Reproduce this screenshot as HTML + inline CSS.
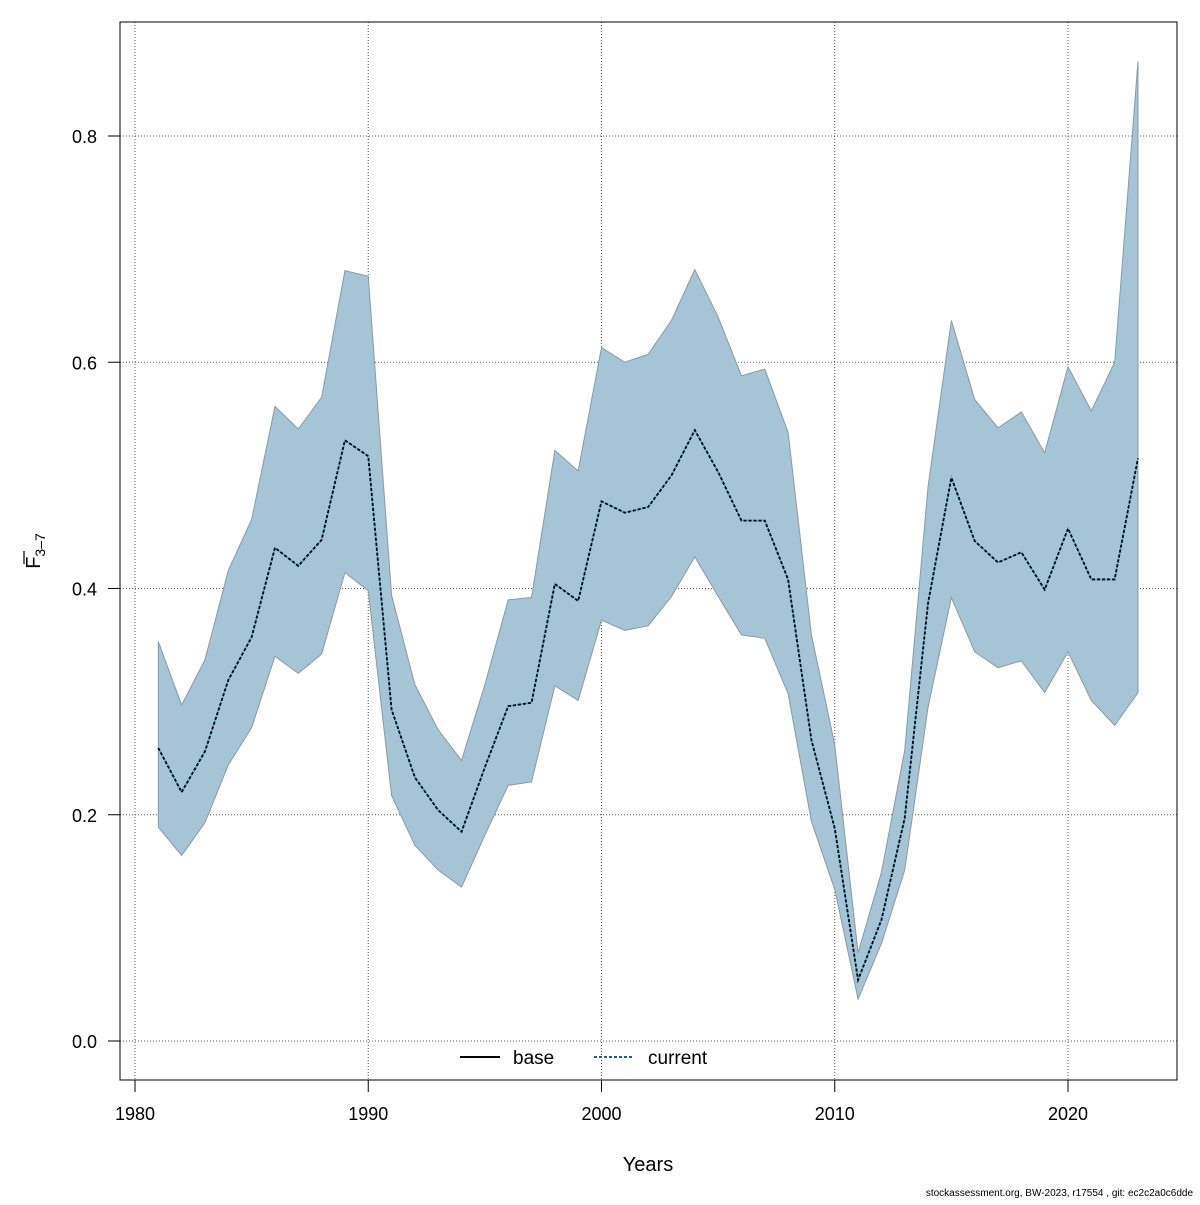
<!DOCTYPE html>
<html><head><meta charset="utf-8"><style>
body{margin:0;background:#fff;font-family:"Liberation Sans",sans-serif}
svg text{font-family:"Liberation Sans",sans-serif}
</style></head><body>
<svg id="chart" width="1200" height="1200" xmlns="http://www.w3.org/2000/svg">
<rect width="1200" height="1200" fill="#fff"/>
<g id="grid"></g>
<g id="marks"></g>
<rect x="120" y="22" width="1057" height="1058" fill="none" stroke="#000" stroke-width="1"/>
<g id="axes"></g>
<text x="648" y="1171" font-size="20" text-anchor="middle">Years</text>
<g transform="translate(40,551) rotate(-90)">
<text x="0" y="0" font-size="20" text-anchor="middle">F<tspan font-size="14" dy="5">3–7</tspan></text>
<line x1="-13" y1="-16" x2="0" y2="-16" stroke="#000" stroke-width="1.2"/>
</g>
<g>
<g>
<line x1="460" y1="1057" x2="500" y2="1057" stroke="#000" stroke-width="2"/>
<text x="513" y="1064" font-size="19">base</text></g>
<g>
<line x1="594" y1="1057" x2="634" y2="1057" stroke="#1f5f8b" stroke-width="2" stroke-dasharray="3,2"/>
<text x="648" y="1064" font-size="19">current</text></g>
</g>
<text x="1193" y="1196" font-size="10" text-anchor="end">stockassessment.org, BW-2023, r17554 , git: ec2c2a0c6dde</text>
</svg>
<script>
const years=[];for(let y=1981;y<=2023;y++)years.push(y);
const upper=[0.353,0.297,0.337,0.416,0.461,0.561,0.541,0.569,0.681,0.676,0.394,0.315,0.275,0.248,0.315,0.39,0.392,0.522,0.504,0.613,0.6,0.607,0.637,0.682,0.64,0.588,0.594,0.538,0.359,0.262,0.078,0.149,0.257,0.49,0.637,0.567,0.542,0.556,0.52,0.596,0.557,0.6,0.866];
const lower=[0.189,0.164,0.193,0.244,0.277,0.34,0.325,0.342,0.414,0.398,0.217,0.173,0.151,0.136,0.182,0.226,0.229,0.314,0.301,0.372,0.363,0.367,0.393,0.428,0.393,0.359,0.356,0.307,0.194,0.134,0.037,0.086,0.151,0.295,0.392,0.344,0.33,0.336,0.308,0.344,0.301,0.279,0.308];
const mid=[0.259,0.22,0.256,0.319,0.357,0.436,0.42,0.443,0.531,0.517,0.293,0.233,0.204,0.185,0.242,0.296,0.299,0.404,0.389,0.477,0.467,0.472,0.5,0.54,0.503,0.46,0.46,0.408,0.266,0.188,0.054,0.107,0.197,0.387,0.498,0.442,0.423,0.432,0.399,0.453,0.408,0.408,0.515];
const xTicks=[1980,1990,2000,2010,2020];
const yTicks=[0.0,0.2,0.4,0.6,0.8];
const X=v=>135+(v-1980)*(1068-135)/40;
const Y=v=>1041-v*(1041-136)/0.8;
const NS="http://www.w3.org/2000/svg";
function mk(tag,attrs,parent){const e=document.createElementNS(NS,tag);for(const k in attrs)e.setAttribute(k,attrs[k]);parent.appendChild(e);return e;}
const grid=document.getElementById('grid'),marks=document.getElementById('marks'),axes=document.getElementById('axes');
xTicks.forEach(t=>{
 const l=mk('line',{x1:X(t),x2:X(t),y1:22,y2:1080,stroke:'#555','stroke-width':1,'stroke-dasharray':'1,2'},grid);
 
 
 const tk=mk('line',{x1:X(t),x2:X(t),y1:1080,y2:1092,stroke:'#000'},axes);
 
 
 const tx=mk('text',{x:X(t),y:1120,'font-size':18,'text-anchor':'middle'},axes);tx.textContent=t;
 
 
});
mk('line',{x1:X(1980),x2:X(2020),y1:1080,y2:1080,stroke:'#000'},axes);
yTicks.forEach(t=>{
 const l=mk('line',{x1:120,x2:1177,y1:Y(t),y2:Y(t),stroke:'#555','stroke-width':1,'stroke-dasharray':'1,2'},grid);
 
 
 const tk=mk('line',{x1:108,x2:120,y1:Y(t),y2:Y(t),stroke:'#000'},axes);
 
 
 const tx=mk('text',{x:97,y:Y(t)+7,'font-size':18,'text-anchor':'end'},axes);tx.textContent=t.toFixed(1);
 
 
});
let d=years.map((y,i)=>(i?'L':'M')+X(y)+','+Y(upper[i])).join('');
for(let i=years.length-1;i>=0;i--)d+='L'+X(years[i])+','+Y(lower[i]);
const band=mk('path',{d:d+'Z',fill:'#a5c4d5',stroke:'#8a9aa4','stroke-width':1},marks);


const pd=years.map((y,i)=>(i?'L':'M')+X(y)+','+Y(mid[i])).join('');
const cur=mk('path',{d:pd,fill:'none',stroke:'#5ab4e0','stroke-width':1.8},marks);


const base=mk('path',{d:pd,fill:'none',stroke:'#000','stroke-width':1.8,'stroke-dasharray':'3,2'},marks);


</script>
</body></html>
